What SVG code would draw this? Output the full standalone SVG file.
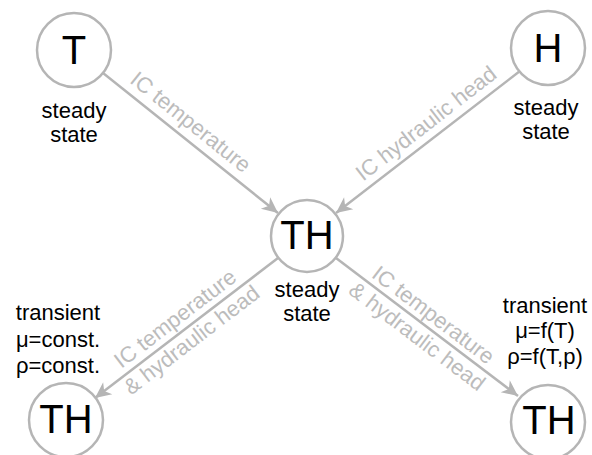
<svg xmlns="http://www.w3.org/2000/svg" width="592" height="455" viewBox="0 0 592 455">
<style>
.node{fill:#ffffff;stroke:#b5b5b5;stroke-width:2.5}
.big{font-family:"Liberation Sans",Arial,sans-serif;font-size:40px;fill:#000;text-anchor:middle}
.sub{font-family:"Liberation Sans",Arial,sans-serif;font-size:22px;fill:#000;text-anchor:middle}
.edge{stroke:#b5b5b5;stroke-width:2.5;fill:none;marker-end:url(#arr)}
.lbl{font-family:"Liberation Sans",Arial,sans-serif;font-size:22px;fill:#bcbcbc;text-anchor:middle}
</style>
<defs>
<marker id="arr" markerUnits="userSpaceOnUse" viewBox="-17 -9 19 18" refX="0" refY="0" markerWidth="19" markerHeight="18" orient="auto">
<path d="M0,0 L-16,-7.5 L-11.5,0 L-16,7.5 Z" fill="#b5b5b5"/>
</marker>
</defs>
<rect width="592" height="455" fill="#ffffff"/>
<g id="connectors">
<line class="edge" x1="103" y1="73" x2="278" y2="213"/>
<line class="edge" x1="520" y1="71" x2="336" y2="213"/>
<line class="edge" x1="278" y1="258" x2="95" y2="398"/>
<line class="edge" x1="336" y1="258" x2="518" y2="396"/>
<text class="lbl" transform="translate(180.4,134.8) rotate(38.66)" x="0" y="-9">IC temperature</text>
<text class="lbl" transform="translate(435.5,135.6) rotate(-37.85)" x="0" y="-8">IC hydraulic head</text>
<text class="lbl" transform="translate(183.9,330) rotate(-37.4)" x="0" y="-7">IC temperature</text>
<text class="lbl" transform="translate(183.9,330) rotate(-37.4)" x="0" y="20">&amp; hydraulic head</text>
<text class="lbl" transform="translate(425.3,325.6) rotate(37.2)" x="0" y="-6">IC temperature</text>
<text class="lbl" transform="translate(425.3,325.6) rotate(37.2)" x="0" y="21">&amp; hydraulic head</text>
</g>
<g id="node-T">
<circle class="node" cx="74" cy="50" r="37"/>
<text class="big" x="74" y="64">T</text>
<text class="sub" x="74" y="118">steady</text>
<text class="sub" x="74" y="142">state</text>
</g>
<g id="node-H">
<circle class="node" cx="548" cy="48" r="37"/>
<text class="big" x="548" y="62">H</text>
<text class="sub" x="546" y="115">steady</text>
<text class="sub" x="546" y="139">state</text>
</g>
<g id="node-TH-center">
<circle class="node" cx="307" cy="236" r="36"/>
<text class="big" x="307" y="249">TH</text>
<text class="sub" x="307" y="297">steady</text>
<text class="sub" x="307" y="321">state</text>
</g>
<g id="node-TH-left">
<circle class="node" cx="66" cy="420" r="37"/>
<text class="big" x="66" y="433">TH</text>
<text class="sub" x="58" y="320">transient</text>
<text class="sub" x="58" y="347">μ=const.</text>
<text class="sub" x="58" y="373">ρ=const.</text>
</g>
<g id="node-TH-right">
<circle class="node" cx="548" cy="422" r="37"/>
<text class="big" x="549" y="434">TH</text>
<text class="sub" x="545" y="313">transient</text>
<text class="sub" x="545" y="338">μ=f(T)</text>
<text class="sub" x="545" y="364">ρ=f(T,p)</text>
</g>
</svg>
